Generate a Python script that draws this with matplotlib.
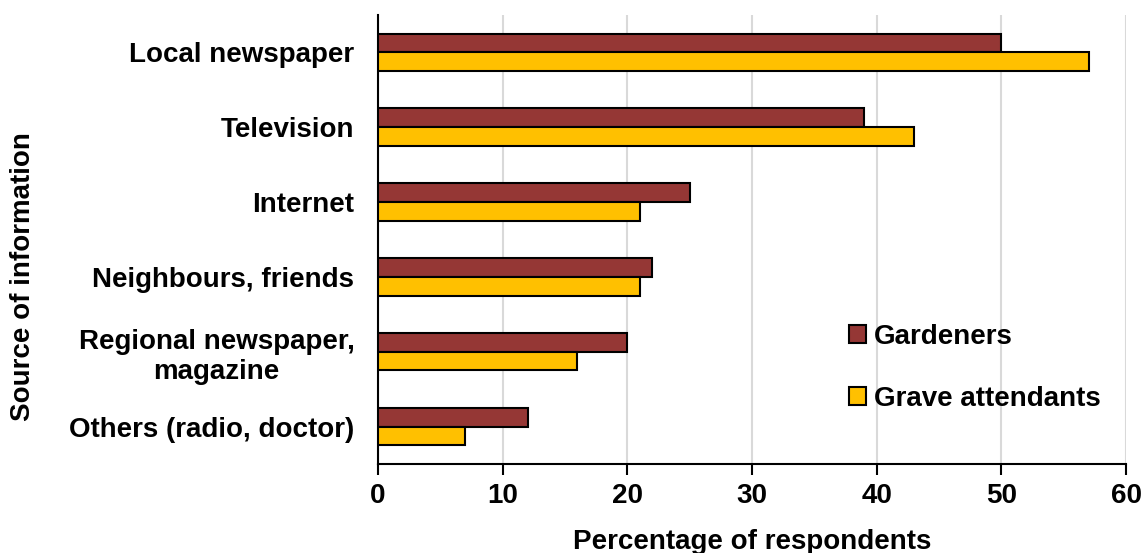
import matplotlib.pyplot as plt
import numpy as np

plt.rcParams['font.family'] = ['Liberation Sans', 'DejaVu Sans']
plt.rcParams['font.weight'] = 'bold'

sources = ['Local newspaper', 'Television', 'Internet', 'Neighbours, friends',
           'Regional newspaper,\nmagazine', 'Others (radio, doctor)']
gardeners = [50, 39, 25, 22, 20, 12]
grave = [57, 43, 21, 21, 16, 7]

fig = plt.figure(figsize=(11.42, 5.53), dpi=100)
ax = fig.add_axes([0.331, 0.161, 0.655, 0.812])

y = np.arange(len(sources))
h = 0.25
ax.barh(y - h / 2, gardeners, height=h, color='#953735', edgecolor='black',
        linewidth=1.5, label='Gardeners', zorder=3)
ax.barh(y + h / 2, grave, height=h, color='#FFC000', edgecolor='black',
        linewidth=1.5, label='Grave attendants', zorder=3)

ax.set_ylim(len(sources) - 0.5, -0.5)
ax.set_xlim(0, 60)
ax.set_xticks(range(0, 61, 10))
ax.set_yticks(y)
ax.set_yticklabels(sources, multialignment='center')
ax.tick_params(axis='y', length=0, pad=17, labelsize=20)
ax.tick_params(axis='x', length=8, width=1.5, direction='out', labelsize=20, pad=6)

ax.grid(axis='x', color='#d9d9d9', linewidth=1.5, zorder=0)
for s in ['top', 'right']:
    ax.spines[s].set_visible(False)
ax.spines['left'].set_linewidth(1.5)
ax.spines['bottom'].set_linewidth(1.5)

ax.set_xlabel('Percentage of respondents', fontsize=20, fontweight='bold', labelpad=14)
fig.text(0.02, 0.5, 'Source of information', rotation=90, fontsize=20,
         fontweight='bold', va='center', ha='center')

ax.legend(loc='lower right', bbox_to_anchor=(1.0, 0.06), frameon=False,
          fontsize=20, labelspacing=1.3, handlelength=0.6, handleheight=0.6,
          handletextpad=0.3)

fig.savefig('out.png', dpi=100)
